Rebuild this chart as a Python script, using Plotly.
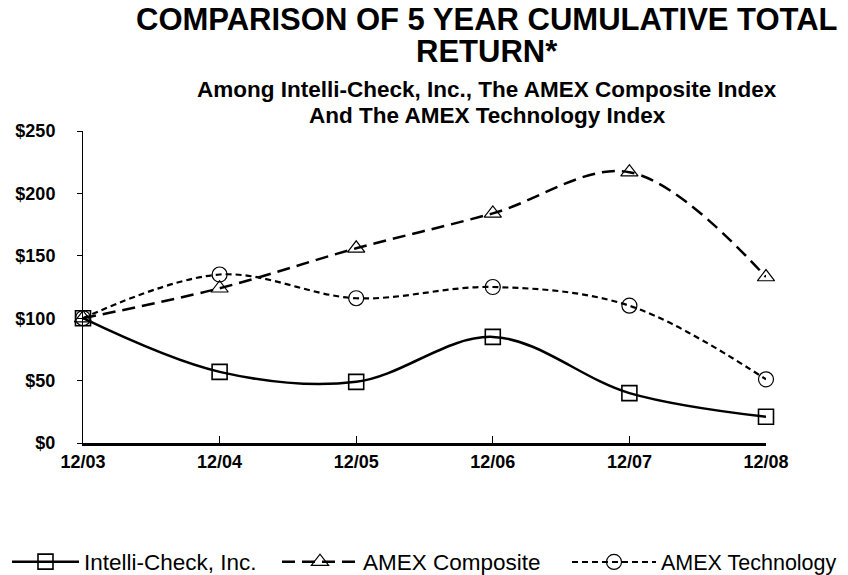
import plotly.graph_objects as go

periods = ["12/03", "12/04", "12/05", "12/06", "12/07", "12/08"]
intelli_check = [100, 57, 49, 85, 40, 21]
amex_composite = [100, 124, 156, 184, 217, 133]
amex_technology = [100, 135, 116, 125, 110, 51]
y_ticks = [0, 50, 100, 150, 200, 250]
y_tick_labels = ["$0", "$50", "$100", "$150", "$200", "$250"]

FONT = "Liberation Sans, Arial, sans-serif"

W, H = 848, 575
# plot area in page pixels: x 83..766, y 131..443
L, R = 83, 848 - 766
T, B = 131, 575 - 443
PW, PH = W - L - R, H - T - B


def px_x(page_x):
    return (page_x - L) / PW


def px_y(page_y):
    return (H - B - page_y) / PH


fig = go.Figure()
fig.add_trace(go.Scatter(
    x=periods, y=intelli_check, name="Intelli-Check, Inc.", legend="legend",
    mode="lines+markers", line=dict(color="black", width=2.5, shape="spline", smoothing=1.0),
    marker=dict(symbol="square-open", size=15, color="black", line=dict(width=1.6)),
    cliponaxis=False))
fig.add_trace(go.Scatter(
    x=periods, y=amex_composite, name="AMEX Composite", legend="legend2",
    mode="lines+markers", line=dict(color="black", width=2.5, dash="13px,7px", shape="spline", smoothing=1.0),
    marker=dict(symbol="triangle-up-open", size=15, color="black", line=dict(width=1.2)),
    cliponaxis=False))
fig.add_trace(go.Scatter(
    x=periods, y=amex_technology, name="AMEX Technology", legend="legend3",
    mode="lines+markers", line=dict(color="black", width=2.2, dash="6px,4px", shape="spline", smoothing=1.0),
    marker=dict(symbol="circle-open", size=15, color="black", line=dict(width=1.2)),
    cliponaxis=False))


def legend_at(page_x, item_w, size=22.5):
    return dict(orientation="h", x=px_x(page_x), xanchor="left",
                y=px_y(562), yanchor="middle",
                font=dict(size=size, family=FONT), itemwidth=item_w,
                bgcolor="rgba(0,0,0,0)")


fig.update_layout(
    width=W, height=H,
    margin=dict(l=L, r=R, t=T, b=B, autoexpand=False),
    paper_bgcolor="white", plot_bgcolor="white",
    font=dict(family=FONT, color="black"),
    showlegend=True,
    legend=legend_at(7, 67),
    legend2=legend_at(277, 76),
    legend3=legend_at(567, 84, 21.5),
    xaxis=dict(type="category", range=[0, 5], showgrid=False, zeroline=False, automargin=False,
               showline=True, linecolor="black", linewidth=3,
               ticks="inside", ticklen=7, tickcolor="black", tickwidth=1,
               tickfont=dict(size=18, family=FONT, weight="bold"), ticklabelstandoff=0),
    yaxis=dict(range=[0, 250], tickvals=y_ticks, ticktext=y_tick_labels, automargin=False,
               showgrid=False, zeroline=False, showline=True, linecolor="black", linewidth=1,
               ticks="outside", ticklen=5, tickcolor="black",
               tickfont=dict(size=18, family=FONT, weight="bold"), ticklabelstandoff=18),
)

titles = [
    ("COMPARISON OF 5 YEAR CUMULATIVE TOTAL", 487, 20, 31),
    ("RETURN*", 487, 51, 31),
    ("Among Intelli-Check, Inc., The AMEX Composite Index", 487, 89, 22.5),
    ("And The AMEX Technology Index", 487, 116, 22.5),
]
for txt, px, py, sz in titles:
    fig.add_annotation(text=txt, xref="paper", yref="paper",
                       x=px_x(px), y=px_y(py),
                       xanchor="center", yanchor="middle", showarrow=False,
                       font=dict(size=sz, family=FONT, weight="bold", color="black"))

fig.write_html("out.html", config={"displayModeBar": False},
               post_script="document.body.style.margin='0px';document.body.style.overflow='hidden';")
